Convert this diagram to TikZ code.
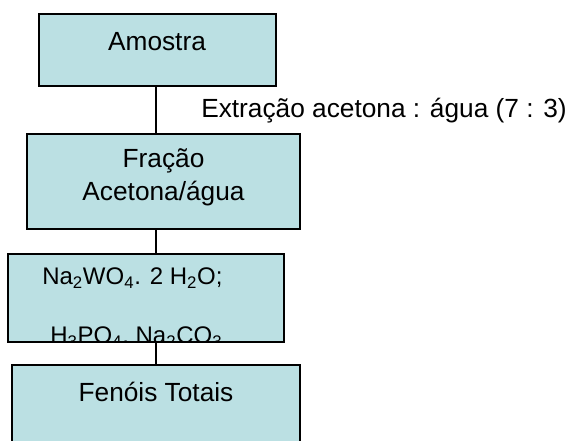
\documentclass[tikz,border=0pt]{standalone}
\usepackage{fontspec}
\setmainfont{Liberation Sans}
\definecolor{azulcaixa}{RGB}{187,224,227}
\tikzset{
	caixa/.style={draw, fill=azulcaixa, line width=1.1pt, inner sep=0pt},
	texto/.style={inner sep=0pt, font=\fontsize{19.7}{23}\selectfont},
	textopeq/.style={inner sep=0pt, anchor=base west, font=\fontsize{18}{21}\selectfont},
	ligacao/.style={line width=1pt},
}
\begin{document}
\begin{tikzpicture}[x=0.75pt,y=0.75pt,yscale=-1,xscale=1]
	\useasboundingbox (0,0) rectangle (572,441);
	\node (amostra) [caixa, minimum width=177.75pt, minimum height=54pt] at (157.5,50) {};
	\node (fracao) [caixa, minimum width=204.75pt, minimum height=71.25pt] at (163.5,181.5) {};
	\node (reagentes) [caixa, minimum width=207pt, minimum height=66pt] at (146,298) {};
	\node (fenois) [caixa, minimum width=216pt, minimum height=75pt] at (156,415) {};
	\draw [ligacao] (amostra.south -| fenois.north) -- (fracao.north -| fenois.north);
	\draw [ligacao] (fracao.south -| fenois.north) -- (reagentes.north -| fenois.north);
	\draw [ligacao] (reagentes.south -| fenois.north) -- (fenois.north);
	\node (tamostra) [texto, anchor=base] at (157,51) {Amostra};
	\node (textracao) [texto, anchor=base west] at (201,118) {Extração acetona : água (7 : 3)};
	\node (tfracao) [texto, anchor=base] at (163.5,168) {Fração};
	\node (tacetona) [texto, anchor=base] at (163.5,201) {Acetona/água};
	\node (treag1) [textopeq] at (42,285) {Na\textsubscript{2}WO\textsubscript{4}. 2 H\textsubscript{2}O;};
	\begin{scope}
		\clip (reagentes.north west) rectangle (reagentes.south east);
		\node (treag2) [textopeq] at (50,344) {H\textsubscript{3}PO\textsubscript{4}, Na\textsubscript{2}CO\textsubscript{3}};
	\end{scope}
	\draw [line width=1.1pt] (reagentes.north west) rectangle (reagentes.south east);
	\node (tfenois) [texto, anchor=base] at (156,402) {Fenóis Totais};
\end{tikzpicture}
\end{document}
